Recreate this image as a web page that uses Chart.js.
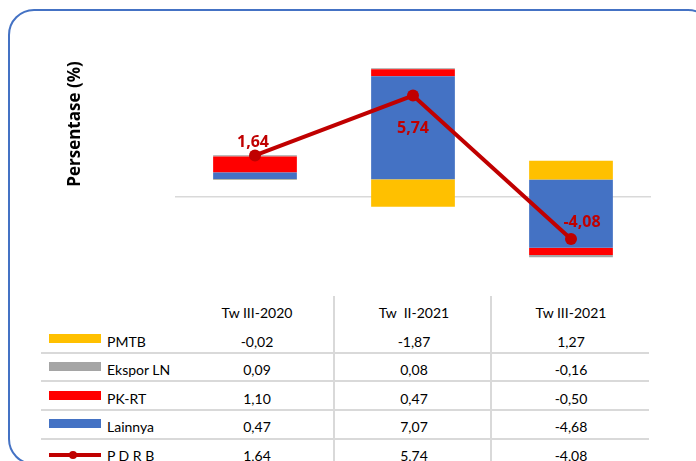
<!DOCTYPE html>
<html>
<head>
<meta charset="utf-8">
<script src="https://cdn.jsdelivr.net/npm/chart.js@4.4.1/dist/chart.umd.min.js"></script>
<style>
  body { margin: 0; background: #fff; width: 696px; height: 461px; overflow: hidden; position: relative; font-family: Lato, "Open Sans", sans-serif; }
  #frame { position: absolute; left: 8px; top: 9px; width: 706px; height: 456px; border: 2px solid #4472C4; border-radius: 26px; box-sizing: border-box; }
  #chartBox { position: absolute; left: 0; top: 0; width: 696px; height: 290px; }
  .txt { position: absolute; transform: translate(-50%, -50%); font-size: 14px; color: #000; white-space: nowrap; }
  .lbl { position: absolute; transform: translateY(-50%); font-size: 14px; color: #000; white-space: nowrap; }
  .hline { position: absolute; left: 41px; width: 608px; height: 2px; background: #D9D9D9; }
  .vline { position: absolute; top: 296px; height: 170px; width: 2px; background: #D9D9D9; }
  .swatch { position: absolute; left: 49px; width: 52px; height: 9px; }
</style>
</head>
<body>
<div id="frame"></div>
<div id="chartBox"><canvas id="chart" width="696" height="290"></canvas></div>
<div id="table"></div>
<script>
const categories = ["Tw III-2020", "Tw  II-2021", "Tw III-2021"];
const pmtb = [-0.02, -1.87, 1.27];
const eksporLN = [0.09, 0.08, -0.16];
const pkrt = [1.10, 0.47, -0.50];
const lainnya = [0.47, 7.07, -4.68];
const pdrb = [1.64, 5.74, -4.08];

const rowNames = ["PMTB", "Ekspor LN", "PK-RT", "Lainnya", "P D R B"];
const rowValues = [pmtb, eksporLN, pkrt, lainnya, pdrb];
const rowColors = ["#FFC000", "#A5A5A5", "#FF0000", "#4472C4", "#C00000"];

function fmt(v) {
  return v.toFixed(2).replace(".", ",");
}

// labels on the PDRB points + the rotated y title
const pdrbLabels = {
  id: "pdrbLabels",
  afterDatasetsDraw(chart) {
    const ctx = chart.ctx;
    const meta = chart.getDatasetMeta(4);
    const offsets = [[-2, -13], [0, 33], [11, -17]];
    ctx.save();
    ctx.font = "bold 16px 'Open Sans'";
    ctx.fillStyle = "#C00000";
    ctx.textAlign = "center";
    ctx.textBaseline = "middle";
    meta.data.forEach((pt, i) => {
      ctx.fillText(fmt(pdrb[i]), pt.x + offsets[i][0], pt.y + offsets[i][1]);
    });
    ctx.translate(75, 124);
    ctx.rotate(-Math.PI / 2);
    ctx.fillStyle = "#000";
    ctx.font = "bold 17px 'Open Sans'";
    ctx.fillText("Persentase (%)", 0, 0);
    ctx.restore();
  }
};

const barOpts = { stack: "bars", order: 1, barPercentage: 0.53, categoryPercentage: 1, borderWidth: 0 };

new Chart(document.getElementById("chart").getContext("2d"), {
  type: "bar",
  data: {
    labels: categories,
    datasets: [
      Object.assign({ label: "PMTB", data: pmtb, backgroundColor: "#FFC000" }, barOpts),
      Object.assign({ label: "Lainnya", data: lainnya, backgroundColor: "#4472C4" }, barOpts),
      Object.assign({ label: "PK-RT", data: pkrt, backgroundColor: "#FF0000" }, barOpts),
      Object.assign({ label: "Ekspor LN", data: eksporLN, backgroundColor: "#A5A5A5" }, barOpts),
      {
        type: "line",
        label: "P D R B",
        data: pdrb,
        stack: "pdrb",
        order: 0,
        borderColor: "#C00000",
        backgroundColor: "#C00000",
        borderWidth: 4,
        pointRadius: 6,
        pointBackgroundColor: "#C00000",
        pointBorderWidth: 0,
        tension: 0
      }
    ]
  },
  options: {
    responsive: false,
    animation: false,
    devicePixelRatio: 1,
    layout: { padding: { left: 176, right: 46, top: 48, bottom: 23 } },
    plugins: { legend: { display: false }, tooltip: { enabled: false } },
    scales: {
      x: {
        stacked: true,
        position: { y: -1.2 },
        ticks: { display: false },
        grid: { display: false },
        border: { color: "#D9D9D9", width: 1.5 }
      },
      y: {
        stacked: true,
        display: false,
        min: -6,
        max: 9
      }
    }
  },
  plugins: [pdrbLabels]
});

// data table under the chart
const table = document.getElementById("table");
const colX = [257, 414, 571];
const rowY = [341, 369, 398, 426, 455];
const sepY = [352, 380, 409, 438];

function add(cls, style, text) {
  const d = document.createElement("div");
  d.className = cls;
  Object.assign(d.style, style);
  if (text) d.textContent = text;
  table.appendChild(d);
  return d;
}

sepY.forEach(y => add("hline", { top: y + "px" }));
[333, 490].forEach(x => add("vline", { left: x + "px" }));

categories.forEach((c, i) => {
  const d = add("txt", { left: colX[i] + "px", top: "312px", whiteSpace: "pre" }, c);
});

rowNames.forEach((name, r) => {
  if (r < 4) {
    add("swatch", { top: (rowY[r] - 7) + "px", background: rowColors[r] });
  } else {
    add("swatch", { top: (rowY[r] - 2) + "px", height: "4px", background: rowColors[r] });
    add("swatch", { left: "69px", width: "8px", height: "8px", borderRadius: "50%", top: (rowY[r] - 4) + "px", background: rowColors[r] });
  }
  add("lbl", { left: "107px", top: rowY[r] + "px" }, name);
  rowValues[r].forEach((v, i) => add("txt", { left: colX[i] + "px", top: rowY[r] + "px" }, fmt(v)));
});
</script>
</body>
</html>
